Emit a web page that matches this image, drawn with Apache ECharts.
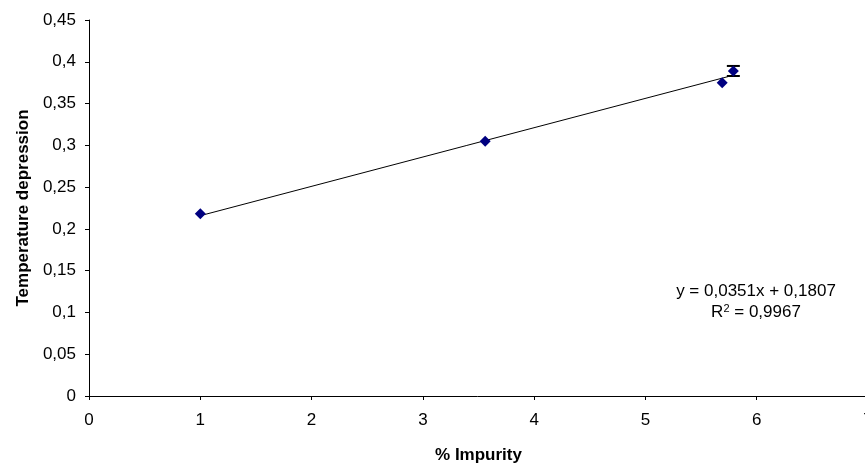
<!DOCTYPE html>
<html>
<head>
<meta charset="utf-8">
<script src="https://cdn.jsdelivr.net/npm/echarts@6/dist/echarts.min.js"></script>
<style>
html,body{margin:0;padding:0;background:#fff;}
#chart{width:865px;height:466px;}
</style>
</head>
<body>
<div id="chart"></div>
<script>
// Data
const impurity = [1.0, 3.56, 5.69, 5.79];
const depression = [0.218, 0.305, 0.375, 0.389];
const errors = [0, 0, 0, 0.006];
const slope = 0.0351;
const intercept = 0.1807;
const xTicks = [0, 1, 2, 3, 4, 5, 6, 7];
const yTicks = [0, 0.05, 0.1, 0.15, 0.2, 0.25, 0.3, 0.35, 0.4, 0.45];
const equationText = 'y = 0,0351x + 0,1807';
const r2Value = '0,9967';

const font = '"Liberation Sans", Arial, sans-serif';
const pts = impurity.map((x, i) => [x, depression[i]]);
const trendX = [Math.min(...impurity), Math.max(...impurity)];
const trend = trendX.map(x => [x, slope * x + intercept]);
const errData = impurity.map((x, i) => [x, depression[i] - errors[i], depression[i] + errors[i]]).filter((d, i) => errors[i] > 0);

const chart = echarts.init(document.getElementById('chart'), null, {renderer: 'canvas'});
const fmt = v => String(+v.toFixed(2)).replace('.', ',');

chart.setOption({
  animation: false,
  backgroundColor: '#fff',
  grid: {left: 89, right: -3, top: 20, bottom: 70, containLabel: false, outerBoundsMode: 'none'},
  xAxis: {
    type: 'value', min: xTicks[0], max: xTicks[xTicks.length - 1], interval: 1,
    name: '% Impurity', nameLocation: 'middle', nameGap: 51,
    nameTextStyle: {fontFamily: font, fontSize: 17, fontWeight: 'bold', color: '#000'},
    axisLine: {onZero: false, lineStyle: {color: '#000', width: 1}},
    axisTick: {show: true, length: 4, lineStyle: {color: '#000'}},
    axisLabel: {fontFamily: font, fontSize: 17, color: '#000', margin: 16, formatter: fmt},
    splitLine: {show: false}
  },
  yAxis: {
    type: 'value', min: yTicks[0], max: yTicks[yTicks.length - 1], interval: 0.05,
    name: 'Temperature depression', nameLocation: 'middle', nameGap: 55, nameRotate: 90,
    nameTextStyle: {fontFamily: font, fontSize: 17, fontWeight: 'bold', color: '#000'},
    axisLine: {show: true, lineStyle: {color: '#000', width: 1}},
    axisTick: {show: true, length: 4, lineStyle: {color: '#000'}},
    axisLabel: {fontFamily: font, fontSize: 17, color: '#000', margin: 13, formatter: fmt},
    splitLine: {show: false}
  },
  series: [
    {
      type: 'line', data: trend, symbol: 'none', silent: true,
      lineStyle: {color: '#000', width: 1}, z: 1
    },
    {
      type: 'custom', data: errData, z: 2, silent: true,
      renderItem: function (params, api) {
        const x = api.value(0);
        const lo = api.coord([x, api.value(1)]);
        const hi = api.coord([x, api.value(2)]);
        const hw = 6.5;
        const st = {stroke: '#000', lineWidth: 2};
        return {type: 'group', children: [
          {type: 'line', shape: {x1: lo[0], y1: lo[1], x2: hi[0], y2: hi[1]}, style: st},
          {type: 'line', shape: {x1: lo[0] - hw, y1: lo[1], x2: lo[0] + hw, y2: lo[1]}, style: st},
          {type: 'line', shape: {x1: hi[0] - hw, y1: hi[1], x2: hi[0] + hw, y2: hi[1]}, style: st}
        ]};
      }
    },
    {
      type: 'scatter', data: pts, symbol: 'diamond', symbolSize: [11, 11],
      itemStyle: {color: '#000080', opacity: 1}, z: 3
    }
  ],
  graphic: [
    {
      type: 'text', x: 756, y: 291,
      style: {text: equationText, font: '17px "Liberation Sans", Arial, sans-serif', fill: '#000', align: 'center', verticalAlign: 'middle'}
    },
    {
      type: 'text', x: 756, y: 312,
      style: {
        text: 'R{sup|2} = ' + r2Value,
        font: '17px "Liberation Sans", Arial, sans-serif', fill: '#000', align: 'center', verticalAlign: 'middle',
        rich: {sup: {fontSize: 11, verticalAlign: 'top', padding: [0, 0, 7, 0], fontFamily: font, fill: '#000'}}
      }
    }
  ]
});
</script>
</body>
</html>
